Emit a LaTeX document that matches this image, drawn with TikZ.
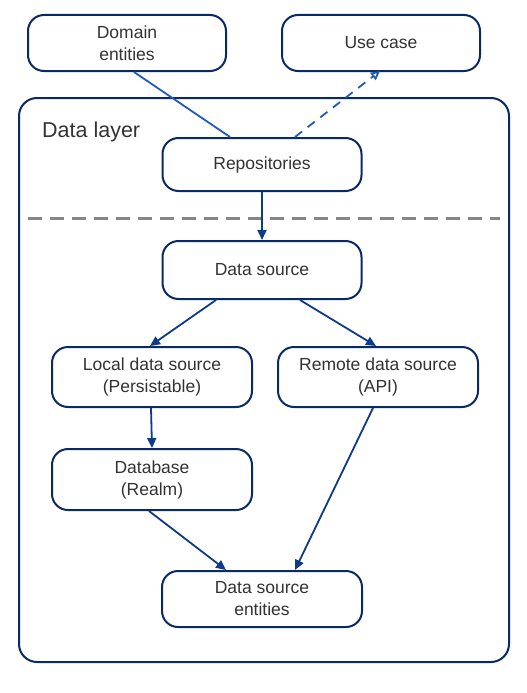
\documentclass[tikz,border=0pt]{standalone}
\usepackage{fontspec}
\setmainfont{Liberation Sans}
\usetikzlibrary{arrows.meta,calc}
\definecolor{navy}{HTML}{0A2A66}
\definecolor{arrowblue}{HTML}{0D3A8A}
\definecolor{lightblue}{HTML}{2159BE}
\definecolor{txt}{HTML}{333333}
\definecolor{dashgray}{HTML}{858585}
\begin{document}
\begin{tikzpicture}[x=1pt,y=-1pt,
  box/.style={draw=navy, line width=2pt, rounded corners=16pt, fill=white,
    align=center, text=txt, inner sep=0pt,
    font=\fontsize{17.5}{22}\selectfont},
  conn/.style={draw=arrowblue, line width=1.8pt, -{Triangle[length=10pt,width=9pt]}},
  plainline/.style={draw=lightblue, line width=1.8pt},
  dashedconn/.style={draw=lightblue, line width=1.8pt, dash pattern=on 9pt off 7pt,
    -{Triangle[open,length=9pt,width=9pt]}},
  divider/.style={draw=dashgray, line width=3pt, dash pattern=on 14pt off 8pt}
]
\useasboundingbox (0,0) rectangle (527,693);
% outer layer
\node[box, rounded corners=18pt, minimum width=490pt, minimum height=564pt] (layer) at (264,380) {};
\node[anchor=base west, text=txt, font=\fontsize{21.5}{26}\selectfont, inner sep=0pt] (layerlabel) at (42,137.5) {Data layer};
% top boxes
\node[box, minimum width=198pt, minimum height=56pt] (de) at (127,43) {Domain\\entities};
\node[box, minimum width=198pt, minimum height=56pt] (uc) at (381,43) {Use case};
% data layer boxes
\node[box, minimum width=199pt, minimum height=53pt] (rep) at (262,164.5) {Repositories};
\node[box, minimum width=199pt, minimum height=58pt] (ds) at (262,270) {Data source};
\node[box, minimum width=200pt, minimum height=60pt] (lds) at (152,377) {Local data source\\(Persistable)};
\node[box, minimum width=200pt, minimum height=60pt] (rds) at (378,377) {Remote data source\\(API)};
\node[box, minimum width=200pt, minimum height=61pt] (db) at (152,479.5) {Database\\(Realm)};
\node[box, minimum width=200pt, minimum height=56pt] (dse) at (262,599) {Data source\\entities};
% divider
\coordinate (divl) at (28,218);
\coordinate (divr) at (500,218);
\draw[divider] (divl) -- (divr);
% connectors
\draw[plainline] ($(de.south)+(7,0)$) -- ($(rep.north)+(-32,0)$);
\draw[dashedconn] ($(rep.north)+(33,0)$) -- ($(uc.south)+(-1,-1)$);
\draw[conn] (rep.south) -- (ds.north);
\draw[conn] ($(ds.south)+(-46,0)$) -- ($(lds.north)+(-2,0)$);
\draw[conn] ($(ds.south)+(38,0)$) -- ($(rds.north)+(-2,0)$);
\draw[conn] ($(lds.south)+(-1,0)$) -- (db.north);
\draw[conn] ($(db.south)+(-3,0)$) -- ($(dse.north)+(-36,0)$);
\draw[conn] ($(rds.south)+(-5,0)$) -- ($(dse.north)+(33,0)$);
\end{tikzpicture}
\end{document}
